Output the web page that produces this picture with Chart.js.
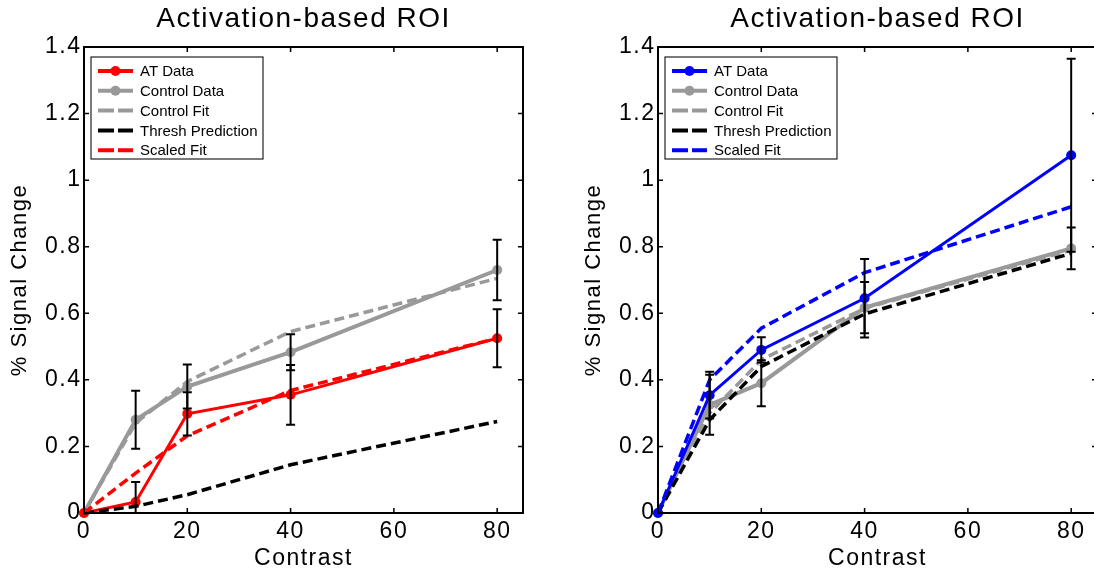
<!DOCTYPE html>
<html>
<head>
<meta charset="utf-8">
<script src="https://cdn.jsdelivr.net/npm/chart.js@4"></script>
<style>
  html, body { margin: 0; padding: 0; background: #fff; overflow: hidden; }
  #wrap { position: relative; width: 1094px; height: 577px; overflow: hidden; }
  canvas { position: absolute; top: 0; }
  #c1 { left: 0; }
  #c2 { left: 574px; }
</style>
</head>
<body>
<div id="wrap">
  <canvas id="c1" width="547" height="577"></canvas>
  <canvas id="c2" width="523" height="577"></canvas>
</div>
<script>
"use strict";

const FONT = "'Liberation Sans', Arial, sans-serif";
Chart.defaults.font.family = FONT;
Chart.defaults.color = "#000";

// x positions of the measurements and tick labels
const contrast = [0, 10, 20, 40, 80];
const xTicks = [0, 20, 40, 60, 80];
const yTicks = [0, 0.2, 0.4, 0.6, 0.8, 1, 1.2, 1.4];
const yTickLabels = ["0", "0.2", "0.4", "0.6", "0.8", "1", "1.2", "1.4"];
const legendLabels = ["AT Data", "Control Data", "Control Fit", "Thresh Prediction", "Scaled Fit"];

// left panel
const leftAT       = [0, 0.033, 0.298, 0.355, 0.525];
const leftATErr    = [0, 0.06, 0.065, 0.09, 0.087];
const leftCtrl     = [0, 0.28, 0.38, 0.483, 0.73];
const leftCtrlErr  = [0, 0.087, 0.066, 0.054, 0.091];
const leftCtrlFit  = [0, 0.27, 0.395, 0.545, 0.705];
const leftThresh   = [0, 0.02, 0.055, 0.145, 0.275];
const leftScaled   = [0, 0.12, 0.232, 0.368, 0.525];

// right panel
const rightAT      = [0, 0.354, 0.49, 0.645, 1.075];
const rightATErr   = [0, 0.07, 0.038, 0.118, 0.29];
const rightCtrl    = [0, 0.325, 0.39, 0.617, 0.795];
const rightCtrlErr = [0, 0.09, 0.069, 0.077, 0.063];
const rightCtrlFit = [0, 0.30, 0.46, 0.615, 0.79];
const rightThresh  = [0, 0.28, 0.44, 0.598, 0.78];
const rightScaled  = [0, 0.40, 0.555, 0.722, 0.92];

const GRAY = "#999999";
const DASH = [10, 5];

function pts(ys) { return contrast.map((x, i) => ({ x, y: ys[i] })); }

// the original text is rendered a little wider; spread the axis/title text
const spacing = {
  id: "spacing",
  beforeDraw(chart) { chart.ctx.letterSpacing = "1.5px"; },
  afterDatasetsDraw(chart) { chart.ctx.letterSpacing = "0px"; },
};

// black error bars, drawn on top of the lines
function errorBars(sets) {
  return {
    id: "errbars",
    afterDatasetsDraw(chart) {
      const { ctx, chartArea: a, scales: { x, y } } = chart;
      ctx.save();
      ctx.strokeStyle = "#000";
      ctx.lineWidth = 2;
      sets.forEach(s => {
        s.vals.forEach((v, i) => {
          if (!s.err[i]) return;
          const px = x.getPixelForValue(contrast[i]);
          const top = Math.max(y.getPixelForValue(v + s.err[i]), a.top);
          const bot = Math.min(y.getPixelForValue(v - s.err[i]), a.bottom);
          ctx.beginPath();
          ctx.moveTo(px, top); ctx.lineTo(px, bot);
          ctx.moveTo(px - 4.5, top); ctx.lineTo(px + 4.5, top);
          if (bot < a.bottom) { ctx.moveTo(px - 4.5, bot); ctx.lineTo(px + 4.5, bot); }
          ctx.stroke();
        });
      });
      ctx.restore();
    },
  };
}

// MATLAB style box with inward ticks on all sides, plus legend
const boxAndLegend = {
  id: "boxlegend",
  afterDraw(chart) {
    const { ctx, chartArea: a, scales: { x, y } } = chart;
    ctx.save();
    ctx.letterSpacing = "0px";
    ctx.strokeStyle = "#000";
    ctx.lineWidth = 2;
    ctx.strokeRect(a.left, a.top, a.right - a.left, a.bottom - a.top);
    ctx.lineWidth = 1.5;
    ctx.beginPath();
    x.ticks.forEach(t => {
      const px = x.getPixelForValue(t.value);
      ctx.moveTo(px, a.bottom); ctx.lineTo(px, a.bottom - 5);
      ctx.moveTo(px, a.top); ctx.lineTo(px, a.top + 5);
    });
    y.ticks.forEach(t => {
      const py = y.getPixelForValue(t.value);
      ctx.moveTo(a.left, py); ctx.lineTo(a.left + 5, py);
      ctx.moveTo(a.right, py); ctx.lineTo(a.right - 5, py);
    });
    ctx.stroke();

    // legend
    const x0 = a.left + 7, y0 = a.top + 10, w = 172, h = 102;
    ctx.fillStyle = "#fff";
    ctx.fillRect(x0, y0, w, h);
    ctx.lineWidth = 1.2;
    ctx.strokeStyle = "#222";
    ctx.strokeRect(x0, y0, w, h);
    ctx.font = "15px " + FONT;
    ctx.textBaseline = "middle";
    ctx.textAlign = "left";
    chart.data.datasets.forEach((ds, i) => {
      const yy = y0 + 14 + i * 19.8;
      ctx.strokeStyle = ds.borderColor;
      ctx.lineWidth = 4;
      ctx.setLineDash(ds.borderDash && ds.borderDash.length ? [16, 4] : []);
      ctx.beginPath();
      ctx.moveTo(x0 + 7, yy); ctx.lineTo(x0 + 42, yy);
      ctx.stroke();
      ctx.setLineDash([]);
      if (ds.pointRadius > 0) {
        ctx.fillStyle = ds.borderColor;
        ctx.beginPath();
        ctx.arc(x0 + 24.5, yy, 5, 0, Math.PI * 2);
        ctx.fill();
      }
      ctx.fillStyle = "#000";
      ctx.fillText(ds.label, x0 + 49, yy + 1);
    });
    ctx.restore();
  },
};

function makePanel(id, rightPad, color, d) {
  const datasets = [
    { label: legendLabels[0], data: pts(d.at), borderColor: color, backgroundColor: color,
      borderWidth: 3, pointRadius: 5, pointBorderWidth: 0, order: 3 },
    { label: legendLabels[1], data: pts(d.ctrl), borderColor: GRAY, backgroundColor: GRAY,
      borderWidth: 4, pointRadius: 5, pointBorderWidth: 0, order: 5 },
    { label: legendLabels[2], data: pts(d.ctrlFit), borderColor: GRAY, borderDash: DASH,
      borderWidth: 3.5, pointRadius: 0, order: 4 },
    { label: legendLabels[3], data: pts(d.thresh), borderColor: "#000", borderDash: DASH,
      borderWidth: 3.5, pointRadius: 0, order: 2 },
    { label: legendLabels[4], data: pts(d.scaled), borderColor: color, borderDash: DASH,
      borderWidth: 3.5, pointRadius: 0, order: 1 },
  ];
  datasets.forEach(ds => { ds.tension = 0; ds.fill = false; ds.clip = 6; });

  return new Chart(document.getElementById(id), {
    type: "line",
    data: { datasets },
    options: {
      responsive: false, animation: false, events: [],
      layout: { autoPadding: false, padding: { left: 0, right: rightPad, top: 0, bottom: 0 } },
      plugins: {
        legend: { display: false },
        tooltip: { enabled: false },
        title: { display: true, text: "Activation-based ROI", fullSize: false, color: "#000",
          font: { size: 28, weight: "normal", lineHeight: 1.2 }, padding: { top: 2, bottom: 11.4 } },
      },
      scales: {
        x: {
          type: "linear", min: 0, max: 85,
          afterBuildTicks: s => { s.ticks = xTicks.map(v => ({ value: v })); },
          afterFit: s => { s.height = 64; s.paddingLeft = 0; s.paddingRight = 0; },
          grid: { display: false, drawTicks: false }, border: { display: false },
          ticks: { padding: 5, maxRotation: 0, autoSkip: false, color: "#000",
            font: { size: 23 }, callback: (v, i) => String(xTicks[i]) },
          title: { display: true, text: "Contrast", color: "#000", font: { size: 23 },
            padding: { top: 0, bottom: 5 } },
        },
        y: {
          type: "linear", min: 0, max: 1.4,
          afterBuildTicks: s => { s.ticks = yTicks.map(v => ({ value: v })); },
          afterFit: s => { s.width = 84; s.paddingTop = 0; s.paddingBottom = 0; },
          grid: { display: false, drawTicks: false }, border: { display: false },
          ticks: { padding: 2.5, color: "#000", font: { size: 23 },
            callback: (v, i) => yTickLabels[i] },
          title: { display: true, text: "% Signal Change", color: "#000", font: { size: 22 },
            padding: { top: 7, bottom: 0 } },
        },
      },
    },
    plugins: [spacing, errorBars([{ vals: d.ctrl, err: d.ctrlErr }, { vals: d.at, err: d.atErr }]), boxAndLegend],
  });
}

makePanel("c1", 24, "#ff0000", {
  at: leftAT, atErr: leftATErr, ctrl: leftCtrl, ctrlErr: leftCtrlErr,
  ctrlFit: leftCtrlFit, thresh: leftThresh, scaled: leftScaled,
});
makePanel("c2", 0, "#0000ff", {
  at: rightAT, atErr: rightATErr, ctrl: rightCtrl, ctrlErr: rightCtrlErr,
  ctrlFit: rightCtrlFit, thresh: rightThresh, scaled: rightScaled,
});
</script>
</body>
</html>
